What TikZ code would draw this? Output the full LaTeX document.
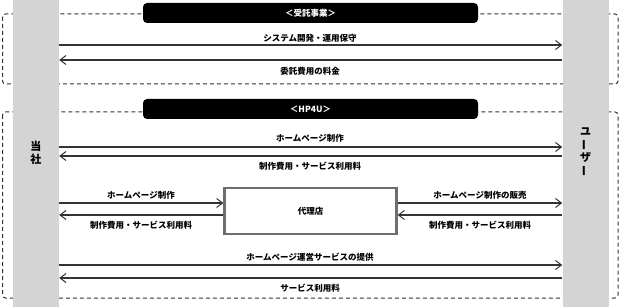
\documentclass[tikz,border=0pt]{standalone}
\usepackage{fontspec}
\setmainfont{Noto Sans CJK JP}
\usetikzlibrary{arrows.meta}
\definecolor{colgray}{HTML}{D4D4D4}
\definecolor{linec}{HTML}{333333}
\definecolor{boxc}{HTML}{6E6E6E}
\begin{document}
\begin{tikzpicture}[x=1pt,y=-1pt,
  grp/.style={draw=linec, line width=1pt, dash pattern=on 4pt off 3pt, rounded corners=3pt},
  col/.style={rectangle, fill=colgray, draw=none, minimum width=46pt, minimum height=307pt, inner sep=0pt},
  collab/.style={font=\fontsize{11}{13}\selectfont\bfseries, align=center, inner sep=0pt, text=black},
  ttl/.style={rectangle, rounded corners=4pt, fill=black, text=white, minimum width=335pt, minimum height=20pt, inner sep=0pt, font=\fontsize{8.5}{10}\selectfont\bfseries},
  agent/.style={rectangle, draw=boxc, line width=2.2pt, fill=white, minimum width=172pt, minimum height=46pt, inner sep=0pt, font=\fontsize{8.5}{10}\selectfont\bfseries},
  lab/.style={font=\fontsize{8.5}{10}\selectfont\bfseries, inner sep=0pt, text=black},
  arr/.style={draw=linec, line width=1.2pt, -{Straight Barb[length=6pt,width=9pt,line width=1pt]}},
  ln/.style={draw=linec, line width=1.2pt}
]
\useasboundingbox (0,0) rectangle (621,307);
% dashed groups
\draw[grp] (2.5,14) rectangle (618,84);
\draw[grp] (2.5,112) rectangle (618,298);
% columns
\node[col] (we) at (36,153.5) {};
\node[col] (usr) at (585.5,153.5) {};
\node[collab] (wel) at (36,152.5) {当\\社};
\node[collab] (usrl) at (585.5,152) {ユ\\\rotatebox[origin=c]{90}{ー}\\ザ\\\rotatebox[origin=c]{90}{ー}};
% titles
\node[ttl] (t1) at (310.5,13) {＜受託事業＞};
\node[ttl] (t2) at (310.5,109) {＜HP4U＞};
% section 1
\draw[arr] (we.east |- 0,45) -- (usr.west |- 0,45);
\node[lab] (l1) at (310,38) {システム開発・運用保守};
\draw[arr] (usr.west |- 0,60) -- (we.east |- 0,60);
\node[lab] (l2) at (310,71) {委託費用の料金};
% section 2
\draw[arr] (we.east |- 0,147) -- (usr.west |- 0,147);
\node[lab] (l3) at (310,138) {ホームページ制作};
\draw[arr] (usr.west |- 0,156) -- (we.east |- 0,156);
\node[lab] (l4) at (310,166) {制作費用・サービス利用料};
% agent
\node[agent] (ag) at (310.5,211) {代理店};
\draw[arr] (we.east |- 0,203) -- (ag.west |- 0,203);
\node[lab] (l5) at (141,195) {ホームページ制作};
\draw[arr] (ag.west |- 0,215) -- (we.east |- 0,215);
\node[lab] (l6) at (141,225.5) {制作費用・サービス利用料};
\draw[arr] (ag.east |- 0,203) -- (usr.west |- 0,203);
\node[lab] (l7) at (480,195) {ホームページ制作の販売};
\draw[arr] (usr.west |- 0,215) -- (ag.east |- 0,215);
\node[lab] (l8) at (480,225.5) {制作費用・サービス利用料};
% bottom
\draw[arr] (we.east |- 0,265) -- (usr.west |- 0,265);
\node[lab] (l9) at (310,257) {ホームページ運営サービスの提供};
\draw[arr] (usr.west |- 0,278) -- (we.east |- 0,278);
\node[lab] (l10) at (310,288.5) {サービス利用料};
\end{tikzpicture}
\end{document}
